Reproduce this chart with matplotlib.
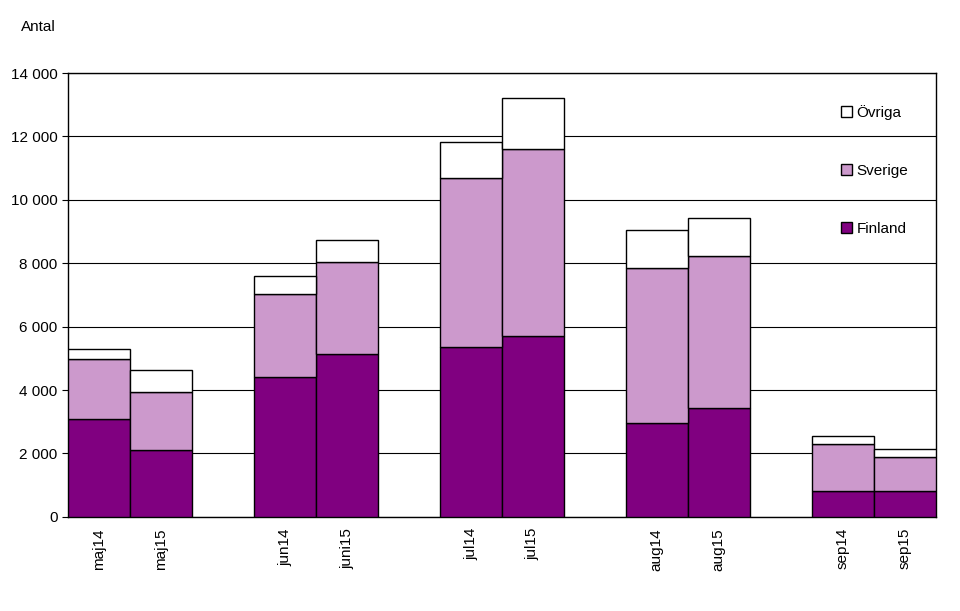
import matplotlib
matplotlib.use("Agg")
import matplotlib.pyplot as plt
import numpy as np
from matplotlib.patches import Patch

plt.rcParams["font.family"] = "Liberation Sans"

slots = ["maj14", "maj15", "", "jun14", "juni15", "", "jul14", "jul15", "", "aug14", "aug15", "", "sep14", "sep15"]
categories = ["maj14", "maj15", "jun14", "juni15", "jul14", "jul15", "aug14", "aug15", "sep14", "sep15"]
finland = [3090, 2110, 4410, 5140, 5360, 5710, 2960, 3440, 820, 820]
sverige = [1890, 1830, 2620, 2900, 5330, 5890, 4890, 4790, 1480, 1070]
ovriga = [320, 700, 570, 700, 1140, 1610, 1200, 1200, 250, 250]

fig = plt.figure(figsize=(9.6, 6.11), dpi=100)
ax = fig.add_axes([0.0708, 0.154, 0.904, 0.7265])

pos = [i for i, s in enumerate(slots) if s]
f = np.array(finland); s = np.array(sverige); o = np.array(ovriga)
kw = dict(width=1.0, edgecolor="black", linewidth=1, zorder=3)
ax.bar(pos, f, color="#800080", **kw)
ax.bar(pos, s, bottom=f, color="#CC99CC", **kw)
ax.bar(pos, o, bottom=f + s, color="white", **kw)

ax.set_xlim(-0.5, len(slots) - 0.5)
ax.set_ylim(0, 14000)
yt = np.arange(0, 14001, 2000)
ax.set_yticks(yt)
ax.set_yticklabels([f"{v:,}".replace(",", " ") for v in yt], fontsize=11)
ax.set_xticks(pos)
ax.set_xticklabels(categories, rotation=90, fontsize=11)
ax.tick_params(axis="x", length=0, pad=8)
ax.tick_params(axis="y", length=4)
ax.grid(axis="y", color="black", linewidth=0.8, zorder=0)
for sp in ax.spines.values():
    sp.set_linewidth(1)

fig.text(0.022, 0.95, "Antal", fontsize=11)

handles = [Patch(facecolor="white", edgecolor="black"),
           Patch(facecolor="#CC99CC", edgecolor="black"),
           Patch(facecolor="#800080", edgecolor="black")]
ax.legend(handles, ["Övriga", "Sverige", "Finland"], loc="upper left",
          bbox_to_anchor=(0.875, 0.96), frameon=False, fontsize=11,
          labelspacing=2.9, handlelength=0.7, handleheight=0.7, handletextpad=0.3)

fig.savefig("out.png", dpi=100)
